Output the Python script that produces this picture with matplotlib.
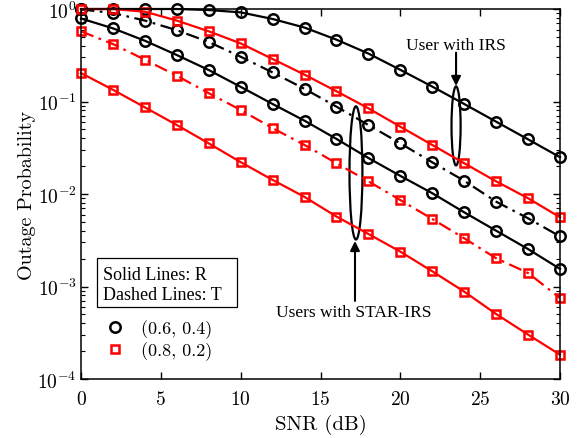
import numpy as np
import matplotlib
matplotlib.use("Agg")
import matplotlib.pyplot as plt
from matplotlib.patches import Ellipse, Rectangle
from matplotlib.lines import Line2D

plt.rcParams['font.family'] = ['cmr10', 'DejaVu Serif']
plt.rcParams['mathtext.fontset'] = 'cm'
plt.rcParams['axes.formatter.use_mathtext'] = True
TIMES = ['Liberation Serif', 'DejaVu Serif']

snr = [0, 2, 4, 6, 8, 10, 12, 14, 16, 18, 20, 22, 24, 26, 28, 30]

irs_06 = [1.0, 1.0, 1.0, 1.0, 0.975, 0.92, 0.78, 0.63, 0.466, 0.33, 0.22, 0.145,
          0.094, 0.0605, 0.039, 0.025]
star_t_06 = [0.99, 0.905, 0.75, 0.59, 0.44, 0.305, 0.206, 0.137, 0.088, 0.0557,
             0.0353, 0.022, 0.0139, 0.00826, 0.00546, 0.00348]
star_r_06 = [0.79, 0.618, 0.454, 0.318, 0.219, 0.144, 0.094, 0.062, 0.0394, 0.0245,
             0.0157, 0.0102, 0.00634, 0.00401, 0.00254, 0.00155]
irs_08 = [1.0, 1.0, 0.935, 0.75, 0.574, 0.425, 0.288, 0.195, 0.129, 0.0844, 0.0534,
          0.0339, 0.0215, 0.0137, 0.009, 0.0056]
star_t_08 = [0.574, 0.418, 0.283, 0.19, 0.123, 0.081, 0.0515, 0.0339, 0.0215, 0.0137,
             0.0086, 0.00537, 0.00332, 0.00202, 0.0014, 0.00075]
star_r_08 = [0.203, 0.134, 0.0865, 0.0557, 0.0353, 0.0221, 0.0142, 0.0093, 0.0057,
             0.0037, 0.00238, 0.00146, 0.00088, 0.000504, 0.000302, 0.000183]

legend_labels = ['(0.6, 0.4)', '(0.8, 0.2)']

fig = plt.figure(figsize=(5.79, 4.39), dpi=100)
ax = fig.add_axes([0.1399, 0.1344, 0.8273, 0.8428])

lw = 1.6
dashdot = (0, (6, 2.5, 1.2, 2.5))
circ = dict(marker='o', ms=7.5, mfc='none', mew=1.8, color='black', lw=lw, clip_on=False)
sq = dict(marker='s', ms=5.5, mfc='none', mew=1.8, color='red', lw=lw, clip_on=False)

ax.plot(snr, irs_06, ls='-', **circ)
ax.plot(snr, star_t_06, ls=dashdot, **circ)
ax.plot(snr, star_r_06, ls='-', **circ)
ax.plot(snr, irs_08, ls='-', **sq)
ax.plot(snr, star_t_08, ls=dashdot, **sq)
ax.plot(snr, star_r_08, ls='-', **sq)

ax.set_yscale('log')
ax.set_xlim(0, 30)
ax.set_ylim(1e-4, 1)
ax.set_xticks([0, 5, 10, 15, 20, 25, 30])
ax.tick_params(which='both', direction='in', top=True, right=True, labelsize=14)
ax.tick_params(axis='x', pad=8)
ax.tick_params(axis='y', pad=3)
ax.tick_params(which='major', length=5, width=1)
ax.tick_params(which='minor', length=3, width=0.8)
for s in ax.spines.values():
    s.set_linewidth(1.1)
ax.set_xlabel('SNR (dB)', fontsize=15, labelpad=4)
ax.set_ylabel('Outage Probability', fontsize=14.5, labelpad=1)

# Annotations
ax.text(0.783, 0.904, 'User with IRS', transform=ax.transAxes, ha='center', va='center',
        fontsize=12.5, family=TIMES)
ax.annotate('', xy=(0.783, 0.792), xytext=(0.783, 0.882), xycoords='axes fraction',
            arrowprops=dict(arrowstyle='-|>', color='black', lw=1.5, mutation_scale=14,
                            shrinkA=0, shrinkB=0))
ax.add_patch(Ellipse((0.783, 0.684), 0.019, 0.2135, transform=ax.transAxes,
                     fill=False, ec='black', lw=1.6))

ax.text(0.570, 0.181, 'Users with STAR-IRS', transform=ax.transAxes, ha='center', va='center',
        fontsize=12.5, family=TIMES)
ax.annotate('', xy=(0.572, 0.373), xytext=(0.572, 0.211), xycoords='axes fraction',
            arrowprops=dict(arrowstyle='-|>', color='black', lw=1.5, mutation_scale=14,
                            shrinkA=0, shrinkB=0))
ax.add_patch(Ellipse((0.574, 0.557), 0.027, 0.36, transform=ax.transAxes,
                     fill=False, ec='black', lw=1.6))

# Legend-like box
ax.add_patch(Rectangle((0.0328, 0.1938), 0.2922, 0.1322, transform=ax.transAxes,
                       fill=True, fc='white', ec='black', lw=0.9, zorder=3))
ax.text(0.0459, 0.282, 'Solid Lines: R', transform=ax.transAxes, ha='left', va='center',
        fontsize=13, family=TIMES, zorder=4)
ax.text(0.0459, 0.228, 'Dashed Lines: T', transform=ax.transAxes, ha='left', va='center',
        fontsize=13, family=TIMES, zorder=4)

handles = [Line2D([], [], ls='none', marker='o', ms=7.5, mfc='none', mew=1.8, color='black'),
           Line2D([], [], ls='none', marker='s', ms=5.5, mfc='none', mew=1.8, color='red')]
ax.legend(handles, legend_labels, loc='upper left', bbox_to_anchor=(0.019, 0.19),
          frameon=False, fontsize=13, handlelength=1.6, handletextpad=0.6,
          labelspacing=0.15, borderaxespad=0.2)

fig.savefig('out.png', dpi=100)
